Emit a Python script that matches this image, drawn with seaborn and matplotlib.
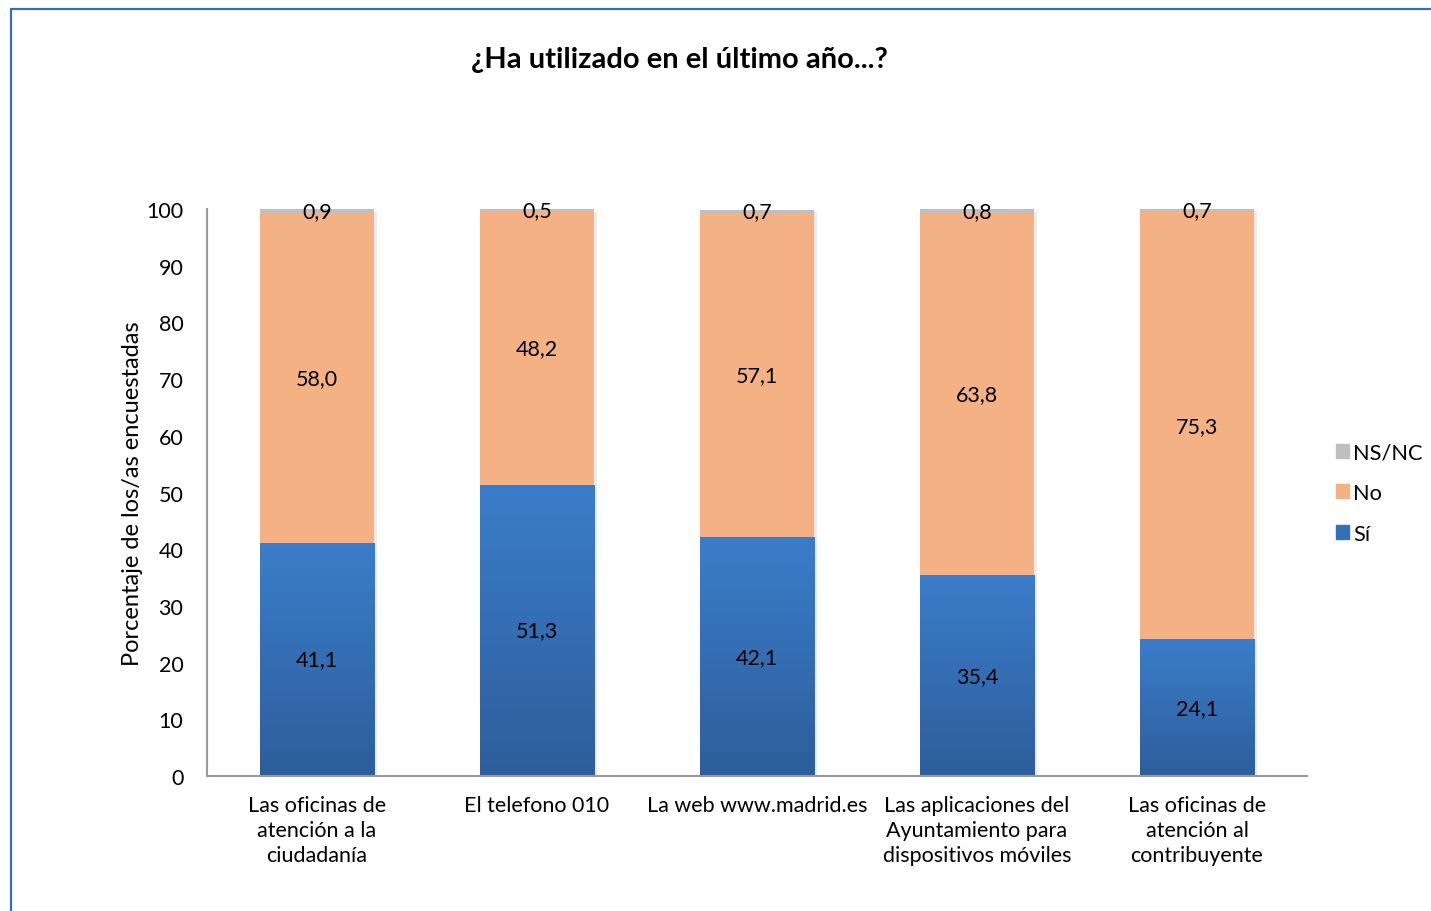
import matplotlib
matplotlib.use("Agg")
import matplotlib.pyplot as plt
import matplotlib.patheffects as pe
from matplotlib.colors import LinearSegmentedColormap
from matplotlib.lines import Line2D
from matplotlib.patches import Patch
import seaborn as sns
import numpy as np
import pandas as pd

# data
categories = [
    "Las oficinas de\natención a la\nciudadanía",
    "El telefono 010",
    "La web www.madrid.es",
    "Las aplicaciones del\nAyuntamiento para\ndispositivos móviles",
    "Las oficinas de\natención al\ncontribuyente",
]
si = [41.1, 51.3, 42.1, 35.4, 24.1]
no = [58.0, 48.2, 57.1, 63.8, 75.3]
nsnc = [0.9, 0.5, 0.7, 0.8, 0.7]

df = pd.DataFrame({"categoria": categories, "si": si, "no": no, "nsnc": nsnc})
df["si_no"] = df["si"] + df["no"]
df["total"] = df["si_no"] + df["nsnc"]

sns.set_theme(style="white")
plt.rcParams["font.family"] = ["Lato", "DejaVu Sans"]
plt.rcParams["text.color"] = "black"
plt.rcParams["axes.labelcolor"] = "black"
plt.rcParams["xtick.color"] = "black"
plt.rcParams["ytick.color"] = "black"

fig = plt.figure(figsize=(14.31, 9.12), dpi=100)
ax = fig.add_axes([207 / 1431, 135 / 912, 1100 / 1431, 567 / 912])

grey = "#bfbfbf"
orange = "#f4b183"
blue = "#3a78c3"
shadow = [pe.SimplePatchShadow(offset=(2, -2), alpha=0.08, shadow_rgbFace="#000000"), pe.Normal()]

# stacked bars: draw cumulative totals from the top down
sns.barplot(data=df, x="categoria", y="total", color=grey, width=0.52, saturation=1, linewidth=0, ax=ax)
sns.barplot(data=df, x="categoria", y="si_no", color=orange, width=0.52, saturation=1, linewidth=0, ax=ax)
n_before = len(ax.patches)
sns.barplot(data=df, x="categoria", y="si", color=blue, width=0.52, saturation=1, linewidth=0, ax=ax)

for p in ax.patches[:len(categories)]:
    p.set_path_effects(shadow)

# vertical gradient on the "Sí" bars
cmap = LinearSegmentedColormap.from_list("grad", ["#2d5e9b", "#3b7dca"])
grad = np.linspace(0, 1, 256).reshape(-1, 1)
for p in ax.patches[n_before:]:
    x0, y0 = p.get_x(), p.get_y()
    w, h = p.get_width(), p.get_height()
    im = ax.imshow(grad, cmap=cmap, origin="lower", aspect="auto",
                   extent=[x0, x0 + w, y0, y0 + h], zorder=p.get_zorder() + 0.1)
    im.set_clip_path(p)

ax.set_xlim(-0.5, len(categories) - 0.5)
ax.set_ylim(0, 100)
ax.set_yticks(range(0, 101, 10))

# value labels centred in each segment
for i in range(len(categories)):
    ax.text(i, si[i] / 2, f"{si[i]:.1f}".replace(".", ","), ha="center", va="center", fontsize=15.5, zorder=5)
    ax.text(i, si[i] + no[i] / 2, f"{no[i]:.1f}".replace(".", ","), ha="center", va="center", fontsize=15.5, zorder=5)
    ax.text(i, si[i] + no[i] + nsnc[i] / 2, f"{nsnc[i]:.1f}".replace(".", ","), ha="center", va="center", fontsize=15.5, zorder=5)

ax.set_xlabel("")
ax.set_ylabel("Porcentaje de los/as encuestadas", fontsize=17)
ax.yaxis.set_label_coords(-0.058, 0.5)
ax.tick_params(axis="both", labelsize=15.5, length=0)
ax.tick_params(axis="x", pad=14)
ax.tick_params(axis="y", pad=17)
for lbl in ax.get_xticklabels():
    lbl.set_linespacing(1.3)

sns.despine(ax=ax)
for s in ["left", "bottom"]:
    ax.spines[s].set_color("#999999")
    ax.spines[s].set_linewidth(1.5)

handles = [Patch(color=grey, label="NS/NC"), Patch(color=orange, label="No"), Patch(color="#3470b8", label="Sí")]
fig.legend(handles=handles, loc="center left", bbox_to_anchor=(1316 / 1431, 1 - 494 / 912),
           frameon=False, fontsize=15.7, handlelength=0.6, handleheight=0.6,
           handletextpad=0.2, labelspacing=0.95)

fig.text(679 / 1431, 1 - 60 / 912, "¿Ha utilizado en el último año...?",
         ha="center", va="center", fontsize=21, fontweight="bold")

# frame border of the original chart
border = "#3a6cb5"
fig.add_artist(Line2D([11 / 1431, 11 / 1431], [0, 1 - 10 / 912], color=border, lw=1.6))
fig.add_artist(Line2D([11 / 1431, 1], [1 - 10 / 912, 1 - 10 / 912], color=border, lw=1.6))

fig.savefig("out.png", dpi=100)
